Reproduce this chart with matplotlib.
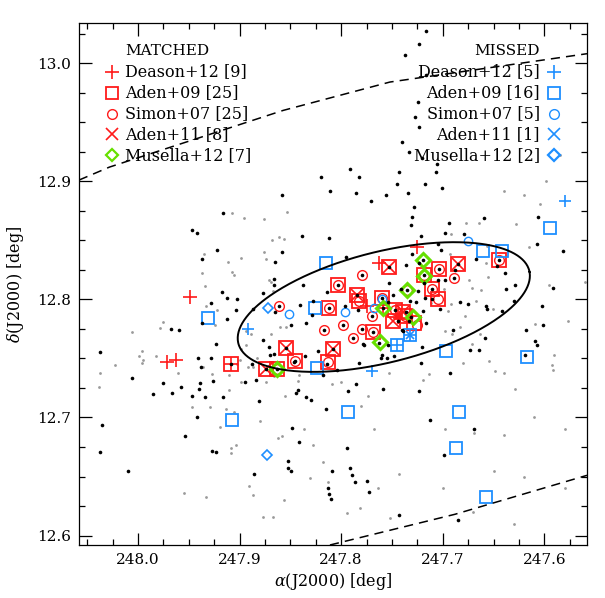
import numpy as np
import matplotlib
matplotlib.use("Agg")
import matplotlib.pyplot as plt

plt.rcParams['font.family'] = ['DejaVu Serif']
plt.rcParams['mathtext.fontset'] = 'dejavuserif'

# ---------------- data (RA, Dec in degrees) ----------------
black_ra = [247.916,247.947,247.942,247.922,247.937,247.858,247.865,247.866,247.866,247.877,247.917,247.912,247.902,247.928,
            247.903,247.887,247.865,247.912,247.937,247.967,247.960,247.923,247.871,247.866,248.037,247.941,247.928,247.938,
            247.926,247.895,247.884,248.006,247.975,247.939,247.958,247.940,247.985,247.966,247.947,247.934,247.916,
            247.888,247.881,247.942,247.954,247.927,247.923,247.886,247.852,247.852,247.849,247.841,247.848,247.815,
            247.830,247.835,247.844,247.842,247.846,247.814,247.818,247.804,247.782,247.778,247.763,247.761,247.755,
            247.793,247.785,247.759,247.794,247.791,247.789,247.786,247.809,247.813,247.812,247.810,247.775,247.773,247.743,
            247.728,247.730,247.731,247.694,247.659,247.698,247.679,247.721,247.606,247.705,247.702,247.730,247.667,247.736,
            247.582,247.607,247.723,247.688,247.698,247.705,247.718,247.724,247.711,247.717,247.732,247.726,247.703,247.683,
            247.675,247.657,247.656,247.642,247.639,247.638,247.629,247.630,247.647,247.591,247.602,247.601,247.618,247.609,
            247.607,247.619,247.658,247.664,247.673,247.690,247.720,247.740,247.716,247.693,247.723,247.733,247.736,
            247.839,247.812,247.795,247.838,247.814,247.753,247.741,247.828,247.840,247.829,247.849,247.835,247.796,247.783,
            247.754,247.749,247.744,247.739,247.754,247.777,247.760,247.748,247.731,247.719,247.870,247.877,247.836,247.823,247.721,
            247.803,247.760,247.812,247.769,247.704,247.711,247.645,247.845,247.735,247.779,247.861,247.798,247.817,247.779,
            247.788,247.689,247.685,247.753,247.874,247.854,247.808,247.863,247.908,247.759,247.770,247.747,247.718,247.719,247.784,
            247.716,247.723,247.737,247.716,247.724,247.727,247.723,247.740,247.733,247.720,247.706,247.707,247.743,247.745,
            247.717,247.701,247.734,247.756,247.791,247.782,247.820,247.811,247.785,247.771,247.858,
            248.035,248.037,248.010,247.713,247.669,247.699,247.685]
black_dec = [12.873,12.859,12.856,12.842,12.834,12.840,12.832,12.817,12.812,12.805,12.806,12.801,12.800,12.797,
             12.791,12.792,12.789,12.783,12.780,12.775,12.774,12.762,12.760,12.754,12.755,12.750,12.750,12.743,
             12.731,12.730,12.732,12.733,12.729,12.729,12.726,12.724,12.720,12.721,12.718,12.717,12.717,
             12.745,12.714,12.700,12.684,12.672,12.671,12.652,12.663,12.657,12.655,12.679,12.691,12.707,
             12.715,12.717,12.721,12.723,12.747,12.745,12.736,12.740,12.746,12.762,12.763,12.750,12.750,
             12.722,12.728,12.724,12.674,12.657,12.651,12.645,12.655,12.640,12.635,12.631,12.646,12.637,12.617,
             12.878,12.870,12.863,12.865,12.869,12.856,12.855,12.854,12.870,12.847,12.842,12.838,12.834,12.829,
             12.841,12.847,12.831,12.825,12.816,12.816,12.814,12.807,12.800,12.801,12.799,12.798,12.792,12.798,
             12.796,12.794,12.792,12.790,12.822,12.809,12.812,12.799,12.828,12.810,12.794,12.778,12.774,12.765,
             12.761,12.753,12.767,12.757,12.757,12.774,12.760,12.774,12.780,12.738,12.722,12.782,12.789,
             12.854,12.852,12.836,12.812,12.806,12.814,12.809,12.799,12.795,12.787,12.778,12.780,12.794,12.791,
             12.798,12.804,12.782,12.773,12.761,12.761,12.753,12.752,12.785,12.790,12.753,12.766,12.752,12.756,12.746,
             12.812,12.801,12.793,12.772,12.826,12.809,12.833,12.748,12.808,12.821,12.794,12.778,12.774,12.775,
             12.767,12.818,12.830,12.827,12.741,12.759,12.758,12.741,12.745,12.793,12.786,12.791,12.821,12.833,12.804,
             13.027,13.016,13.007,12.990,12.967,12.954,12.946,12.933,12.925,12.920,12.915,12.908,12.908,12.898,
             12.898,12.894,12.890,12.888,12.910,12.904,12.904,12.892,12.890,12.883,12.888,
             12.694,12.671,12.655,12.698,12.690,12.668,12.613]

gray_ra = [247.907,247.896,247.876,247.853,247.868,247.861,247.856,247.876,247.874,247.899,247.935,247.911,247.937,247.907,
           247.905,247.934,247.871,247.869,247.867,247.933,247.922,247.854,247.860,247.869,247.889,247.975,247.978,248.006,
           247.924,247.894,247.894,247.996,247.999,247.995,247.996,247.982,248.023,248.037,247.961,247.927,247.900,247.892,
           247.887,248.038,247.874,247.936,
           247.899,247.883,247.902,247.910,247.899,247.855,247.842,247.910,247.913,247.905,247.929,247.947,247.919,247.880,
           247.862,247.858,247.837,247.828,247.908,247.903,247.908,247.891,247.887,247.933,247.955,247.877,247.867,247.856,
           247.831,247.818,247.813,247.794,247.781,247.764,247.768,247.780,247.774,247.800,247.809,247.753,247.841,247.866,
           247.752,247.743,
           247.677,247.664,247.628,247.604,247.692,247.656,247.615,247.693,247.657,247.674,247.655,247.671,247.662,247.667,
           247.651,247.692,247.699,247.695,247.712,247.678,247.698,247.691,247.683,247.671,247.663,247.654,247.680,247.649,
           247.640,247.609,247.577,247.595,247.560,247.590,247.592,247.591,247.714,247.719,247.629,
           247.585,247.598,247.620,247.640,247.713,247.698,247.669,247.640,247.610,247.580,247.650,247.620,247.580,247.700,
           247.670,247.630]
gray_dec = [12.873,12.869,12.868,12.874,12.850,12.853,12.851,12.840,12.834,12.835,12.838,12.832,12.822,12.823,
            12.821,12.811,12.816,12.815,12.807,12.794,12.791,12.777,12.777,12.771,12.771,12.781,12.776,12.772,
            12.778,12.773,12.761,12.756,12.752,12.749,12.746,12.752,12.744,12.738,12.738,12.737,12.749,12.743,
            12.743,12.726,12.730,12.743,
            12.758,12.750,12.745,12.736,12.730,12.718,12.731,12.723,12.707,12.705,12.709,12.709,12.692,12.697,
            12.683,12.684,12.690,12.677,12.674,12.677,12.670,12.642,12.634,12.633,12.636,12.616,12.616,12.630,
            12.649,12.662,12.645,12.619,12.623,12.640,12.690,12.710,12.718,12.730,12.728,12.738,12.736,12.735,
            12.615,12.652,
            12.865,12.865,12.864,12.881,12.855,12.845,12.844,12.838,12.831,12.816,12.819,12.810,12.808,12.799,
            12.792,12.796,12.809,12.790,12.797,12.786,12.773,12.771,12.777,12.762,12.771,12.748,12.746,12.739,
            12.738,12.779,12.782,12.812,12.815,12.753,12.744,12.740,12.737,12.732,12.724,
            12.922,12.900,12.888,12.892,12.698,12.690,12.687,12.685,12.700,12.690,12.655,12.650,12.640,12.640,
            12.620,12.610]

# matched samples
m_deason_ra = [247.949,247.971,247.963,247.908,247.763,247.725,247.775,247.759,247.742]
m_deason_dec = [12.802,12.747,12.749,12.745,12.831,12.844,12.794,12.793,12.784]
m_aden09_ra = [247.803,247.718,247.784,247.782,247.760,247.812,247.747,247.739,247.749,247.737,247.769,247.854,247.808,
               247.845,247.813,247.908,247.874,247.645,247.685,247.704,247.711,247.705,247.753,247.863,247.728]
m_aden09_dec = [12.812,12.821,12.804,12.799,12.801,12.793,12.791,12.789,12.782,12.786,12.772,12.759,12.758,
                12.748,12.747,12.745,12.741,12.833,12.830,12.826,12.809,12.800,12.827,12.741,12.780]
m_simon_ra = [247.779,247.861,247.770,247.798,247.817,247.779,247.788,247.725,247.689,247.803,247.760,247.812,247.769,
              247.704,247.711,247.705,247.645,247.845,247.813,247.735,247.782,247.747,247.718,247.863,247.737]
m_simon_dec = [12.821,12.794,12.786,12.778,12.774,12.775,12.767,12.778,12.818,12.812,12.801,12.793,12.772,
               12.826,12.809,12.800,12.833,12.748,12.747,12.808,12.799,12.791,12.821,12.741,12.786]
m_aden11_ra = [247.784,247.854,247.808,247.874,247.685,247.753,247.739,247.749]
m_aden11_dec = [12.804,12.759,12.758,12.741,12.830,12.827,12.789,12.782]
m_musella_ra = [247.719,247.718,247.735,247.759,247.729,247.762,247.863]
m_musella_dec = [12.833,12.820,12.808,12.793,12.785,12.764,12.741]

# missed samples
x_deason_ra = [247.580,247.892,247.770,247.745,247.732]
x_deason_dec = [12.883,12.775,12.739,12.761,12.770]
x_aden09_ra = [247.815,247.826,247.931,247.907,247.824,247.793,247.697,247.617,247.684,247.687,247.657,247.594,
               247.642,247.745,247.732,247.660]
x_aden09_dec = [12.831,12.793,12.784,12.698,12.742,12.705,12.756,12.751,12.705,12.674,12.633,12.860,
                12.841,12.761,12.770,12.841]
x_simon_ra = [247.851,247.796,247.768,247.675,247.760]
x_simon_dec = [12.788,12.789,12.793,12.849,12.800]
x_aden11_ra = [247.732]
x_aden11_dec = [12.770]
x_musella_ra = [247.872,247.873]
x_musella_dec = [12.793,12.668]

# survey boundary (dashed) and half-light ellipse
edge1_ra = [248.058,248.028,247.857,247.752,247.558]
edge1_dec = [12.901,12.912,12.960,12.984,13.008]
edge2_ra = [247.811,247.688,247.558]
edge2_dec = [12.592,12.618,12.651]
ell_ra0, ell_dec0 = 247.758, 12.7935
ell_a, ell_e, ell_pa = 0.143, 0.67, -78.0

matched_labels = ["Deason+12 [9]", "Aden+09 [25]", "Simon+07 [25]", "Aden+11 [8]", "Musella+12 [7]"]
missed_labels = ["Deason+12 [5]", "Aden+09 [16]", "Simon+07 [5]", "Aden+11 [1]", "Musella+12 [2]"]

RED = '#ff1a1a'
BLUE = '#1e8fff'
GREEN = '#66e000'

fig = plt.figure(figsize=(6.05, 5.98), dpi=100)
ax = fig.add_axes([79/605, 53/598, 508/605, 522/598])

ax.plot(gray_ra, gray_dec, 'o', ms=2.0, color='#9a9a9a', mec='none', zorder=1)

# matched markers
ax.plot(m_aden09_ra, m_aden09_dec, 's', ms=10, mfc='none', mec=RED, mew=1.3, zorder=3)
ax.plot(m_simon_ra, m_simon_dec, 'o', ms=7, mfc='none', mec=RED, mew=1.0, zorder=3)
ax.plot(m_aden11_ra, m_aden11_dec, 'x', ms=8, color=RED, mew=1.2, zorder=3)
ax.plot(m_deason_ra, m_deason_dec, '+', ms=10, color=RED, mew=1.2, zorder=3)
ax.plot(m_musella_ra, m_musella_dec, 'D', ms=7, mfc='none', mec=GREEN, mew=2.2, zorder=4)

# missed markers
ax.plot(x_aden09_ra, x_aden09_dec, 's', ms=8, mfc='none', mec=BLUE, mew=1.3, zorder=3)
ax.plot(x_simon_ra, x_simon_dec, 'o', ms=6, mfc='none', mec=BLUE, mew=1.0, zorder=3)
ax.plot(x_aden11_ra, x_aden11_dec, 'x', ms=6, color=BLUE, mew=1.2, zorder=3)
ax.plot(x_deason_ra, x_deason_dec, '+', ms=8, color=BLUE, mew=1.2, zorder=3)
ax.plot(x_musella_ra, x_musella_dec, 'D', ms=5, mfc='none', mec=BLUE, mew=1.2, zorder=3)

ax.plot(black_ra, black_dec, 'o', ms=2.6, color='black', mec='none', zorder=5)

# ellipse
t = np.linspace(0, 2*np.pi, 400)
b = ell_a*(1-ell_e)
th = np.deg2rad(ell_pa)
east = ell_a*np.cos(t)*np.sin(th) + b*np.sin(t)*np.cos(th)
north = ell_a*np.cos(t)*np.cos(th) - b*np.sin(t)*np.sin(th)
ax.plot(ell_ra0 + east/np.cos(np.deg2rad(ell_dec0)), ell_dec0 + north, color='black', lw=1.4, zorder=6)

ax.plot(edge1_ra, edge1_dec, color='black', lw=1.1, ls=(0, (6, 4)), zorder=6)
ax.plot(edge2_ra, edge2_dec, color='black', lw=1.1, ls=(0, (6, 4)), zorder=6)

ax.set_xlim(248.058, 247.558)
ax.set_ylim(12.592, 13.034)
ax.set_xticks([248.0, 247.9, 247.8, 247.7, 247.6])
ax.set_yticks([12.6, 12.7, 12.8, 12.9, 13.0])
ax.xaxis.set_minor_locator(matplotlib.ticker.MultipleLocator(0.025))
ax.yaxis.set_minor_locator(matplotlib.ticker.MultipleLocator(0.025))
ax.xaxis.set_major_formatter(matplotlib.ticker.FormatStrFormatter('%.1f'))
ax.yaxis.set_major_formatter(matplotlib.ticker.FormatStrFormatter('%.1f'))
ax.tick_params(which='both', direction='in', top=True, right=True, labelsize=11, width=0.9, pad=6)
ax.tick_params(which='major', length=9)
ax.tick_params(which='minor', length=4.5)
for s in ax.spines.values():
    s.set_linewidth(0.9)
ax.set_xlabel(r'$\alpha$(J2000) [deg]', fontsize=11.5, labelpad=3)
ax.set_ylabel(r'$\delta$(J2000) [deg]', fontsize=11.5, labelpad=8)

# legends
mk = [('+', 10, 1.2), ('s', 9, 1.3), ('o', 7, 1.0), ('x', 8, 1.2), ('D', 6, 1.6)]
y0 = 0.906
dy = 0.0398
ax.text(0.0906, 0.947, 'MATCHED', transform=ax.transAxes, fontsize=11, va='center', ha='left')
ax.text(0.9075, 0.947, 'MISSED', transform=ax.transAxes, fontsize=11, va='center', ha='right')
for i, (m, s, w) in enumerate(mk):
    y = y0 - i*dy
    col = GREEN if i == 4 else RED
    ax.plot([0.065], [y], m, ms=s, mfc='none', mec=col, color=col, mew=w, transform=ax.transAxes, clip_on=False)
    ax.text(0.0906, y, matched_labels[i], transform=ax.transAxes, fontsize=11.5, va='center', ha='left')
    ax.plot([0.935], [y], m, ms=s, mfc='none', mec=BLUE, color=BLUE, mew=w, transform=ax.transAxes, clip_on=False)
    ax.text(0.9075, y, missed_labels[i], transform=ax.transAxes, fontsize=11.5, va='center', ha='right')

fig.savefig('out.png', dpi=100)
